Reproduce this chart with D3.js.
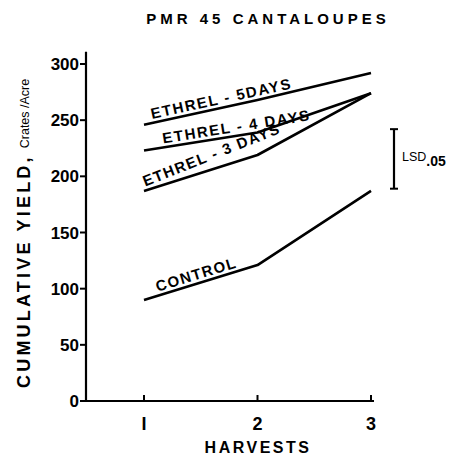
<!DOCTYPE html>
<html><head><meta charset="utf-8">
<script src="https://cdn.jsdelivr.net/npm/d3@7"></script>
<style>
body{margin:0;background:#fff;}
svg{font-family:"Liberation Sans",Arial,sans-serif;}
</style></head>
<body><svg id="c" width="464" height="457"></svg>
<script>
const harvests = [1, 2, 3];
const control = [90, 121, 187];
const ethrel3 = [187, 219, 274];
const ethrel4 = [223, 239, 274];
const ethrel5 = [246, 268, 292];
const seriesNames = ["ETHREL - 5DAYS", "ETHREL - 4 DAYS", "ETHREL - 3 DAYS", "CONTROL"];
const yTicks = [0, 50, 100, 150, 200, 250, 300];
const lsd = [189, 242];

const svg = d3.select("#c");
const x = d3.scaleLinear().domain([1, 3]).range([144, 371]);
const y = d3.scaleLinear().domain([0, 300]).range([401, 64]);
const x0 = x.invert(86), x1 = x.invert(374);

// axes lines
svg.append("line").attr("x1", x(x0)).attr("x2", x(x1)).attr("y1", y(0)).attr("y2", y(0))
  .attr("stroke", "#000").attr("stroke-width", 2.2);
svg.append("line").attr("x1", x(x0)).attr("x2", x(x0)).attr("y1", y(0) + 1).attr("y2", y(311))
  .attr("stroke", "#000").attr("stroke-width", 2.2);

// y ticks
const yt = svg.append("g");
yTicks.forEach(v => {
  yt.append("line").attr("x1", x(x0) - 6).attr("x2", x(x0) + 1).attr("y1", y(v)).attr("y2", y(v))
    .attr("stroke", "#000").attr("stroke-width", 2);
  yt.append("text").attr("x", x(x0) - 7).attr("y", y(v) + 6).attr("text-anchor", "end")
    .attr("font-size", 17).attr("font-weight", "bold").text(v);
});
// x ticks
harvests.forEach(h => {
  svg.append("line").attr("x1", x(h)).attr("x2", x(h)).attr("y1", y(0)).attr("y2", y(0) - 6)
    .attr("stroke", "#000").attr("stroke-width", 2);
  svg.append("text").attr("x", x(h)).attr("y", 430).attr("text-anchor", "middle")
    .attr("font-size", 18).attr("font-weight", "bold").text(h === 1 ? "I" : h);
});

// titles
svg.append("text").attr("x", 268).attr("y", 24).attr("text-anchor", "middle")
  .attr("font-size", 15).attr("font-weight", "bold").attr("letter-spacing", 4)
  .text("PMR 45 CANTALOUPES");
svg.append("text").attr("x", 258).attr("y", 453).attr("text-anchor", "middle")
  .attr("font-size", 16).attr("font-weight", "bold").attr("letter-spacing", 2.5)
  .text("HARVESTS");
const yl = svg.append("text").attr("transform", "translate(30,388) rotate(-90)");
yl.append("tspan").attr("font-size", 18).attr("font-weight", "bold").attr("letter-spacing", 3.2)
  .text("CUMULATIVE YIELD,");
yl.append("tspan").attr("font-size", 12.5).attr("dx", 6).attr("dy", -1).text("Crates /Acre");

// lines
const line = d3.line().x((d, i) => x(harvests[i])).y(d => y(d));
const all = [ethrel5, ethrel4, ethrel3, control];
svg.selectAll("path.s").data(all).join("path").attr("class", "s")
  .attr("d", line).attr("fill", "none").attr("stroke", "#000").attr("stroke-width", 2.6)
  .attr("stroke-linejoin", "round");

// labels along first segment
const labelStart = [1.07, 1.17, 1.01, 1.12];
const labelSpacing = [1.6, 1.6, 1.4, 1.4];
all.forEach((s, i) => {
  const h = labelStart[i];
  const seg = h < 2 ? 0 : 1;
  let vx = x(h), vy = y(s[seg] + (s[seg + 1] - s[seg]) * (h - harvests[seg]));
  let ang = Math.atan2(y(s[seg + 1]) - y(s[seg]), x(harvests[seg + 1]) - x(harvests[seg])) * 180 / Math.PI;
  if (i === 2) ang -= 4;
  svg.append("text").attr("transform", `translate(${vx},${vy - 4}) rotate(${ang})`)
    .attr("font-size", 15).attr("letter-spacing", labelSpacing[i]).attr("font-weight", "bold")
    .text(seriesNames[i]);
});

// LSD bar
const lx = 394;
svg.append("line").attr("x1", lx).attr("x2", lx).attr("y1", y(lsd[0])).attr("y2", y(lsd[1]))
  .attr("stroke", "#000").attr("stroke-width", 2.2);
lsd.forEach(v => svg.append("line").attr("x1", lx - 4).attr("x2", lx + 4).attr("y1", y(v)).attr("y2", y(v))
  .attr("stroke", "#000").attr("stroke-width", 2));
const lt = svg.append("text").attr("x", 402).attr("y", y(216) + 3).attr("font-size", 12.5);
lt.append("tspan").text("LSD");
lt.append("tspan").attr("dy", 5).attr("font-size", 14).attr("font-weight", "bold").text(".05");
</script></body></html>
